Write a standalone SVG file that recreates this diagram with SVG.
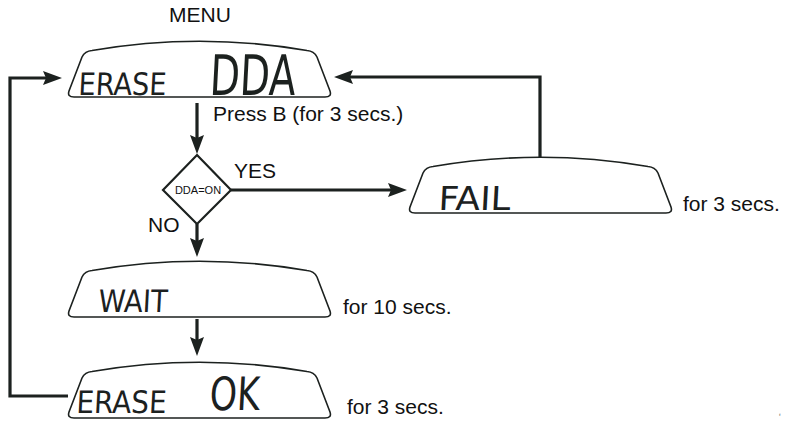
<svg xmlns="http://www.w3.org/2000/svg" width="785" height="421" viewBox="0 0 785 421">
  <style>
    .disp { fill: #ffffff; stroke: #1c211f; stroke-width: 1.6; }
    .lcd { font-family: "Liberation Sans Narrow", "DejaVu Sans Condensed", "Liberation Sans", sans-serif; font-stretch: condensed; fill: #1c211f; }
    .lbl { font-family: "Liberation Sans", Arial, Helvetica, sans-serif; font-size: 21px; fill: #111111; }
    .conn { fill: none; stroke: #1c211f; stroke-width: 3.2; stroke-linejoin: miter; }
    .dia { fill: #ffffff; stroke: #1c211f; stroke-width: 2.2; }
  </style>
  <defs>
    <path id="lcdShape" d="M 7,56 L 258,56 Q 265,56 263,50 L 250,16 Q 247,10 240,9.5 Q 132.5,-9 25,9.5 Q 18,10 15,16 L 2,50 Q 0,56 7,56 Z"/>
    <marker id="arr" markerUnits="userSpaceOnUse" markerWidth="20" markerHeight="16" viewBox="0 0 20 16" refX="11" refY="7" orient="auto">
      <path d="M 0,0 L 19,7 L 0,14 L 3,7 Z" fill="#1c211f"/>
    </marker>
  </defs>

  <rect width="785" height="421" fill="#ffffff"/>

  <text class="lbl" x="200" y="22" text-anchor="middle">MENU</text>

  <g id="connectors">
    <path class="conn" d="M 68,396 H 10 V 78 H 54" marker-end="url(#arr)"/>
    <path class="conn" d="M 197,103 V 146" marker-end="url(#arr)"/>
    <path class="conn" d="M 231,190 H 399" marker-end="url(#arr)"/>
    <path class="conn" d="M 540,157 V 77 H 342" marker-end="url(#arr)"/>
    <path class="conn" d="M 197,224 V 249" marker-end="url(#arr)"/>
    <path class="conn" d="M 197,319 V 348" marker-end="url(#arr)"/>
  </g>

  <g id="node-erase-dda">
    <use href="#lcdShape" class="disp" transform="translate(67,41)"/>
    <text class="lcd" font-size="31" textLength="88" lengthAdjust="spacingAndGlyphs" transform="translate(78,95) skewX(-3)">ERASE</text>
    <text class="lcd" font-size="56" textLength="86" lengthAdjust="spacingAndGlyphs" transform="translate(209,95) skewX(-3)">DDA</text>
  </g>

  <text class="lbl" x="213" y="121">Press B (for 3 secs.)</text>

  <g id="node-decision">
    <polygon class="dia" points="197,155 231,190 197,224 163,190"/>
    <text x="198" y="194" text-anchor="middle" font-family="Liberation Sans, Arial, sans-serif" font-size="11" fill="#111111">DDA=ON</text>
  </g>
  <text class="lbl" x="234" y="178">YES</text>
  <text class="lbl" x="148" y="232">NO</text>

  <g id="node-fail">
    <use href="#lcdShape" class="disp" transform="translate(408,157)"/>
    <text class="lcd" font-size="33" textLength="72" lengthAdjust="spacingAndGlyphs" transform="translate(438,210) skewX(-3)">FAIL</text>
  </g>
  <text class="lbl" x="683" y="211">for 3 secs.</text>

  <g id="node-wait">
    <use href="#lcdShape" class="disp" transform="translate(67,261)"/>
    <text class="lcd" font-size="31" textLength="69" lengthAdjust="spacingAndGlyphs" transform="translate(98,312) skewX(-3)">WAIT</text>
  </g>
  <text class="lbl" x="343" y="314">for 10 secs.</text>

  <g id="node-erase-ok">
    <use href="#lcdShape" class="disp" transform="translate(67,362)"/>
    <text class="lcd" font-size="31" textLength="90" lengthAdjust="spacingAndGlyphs" transform="translate(76,413) skewX(-3)">ERASE</text>
    <text class="lcd" font-size="46" textLength="50" lengthAdjust="spacingAndGlyphs" transform="translate(209,410) skewX(-3)">OK</text>
  </g>
  <text class="lbl" x="347" y="414">for 3 secs.</text>

  <text x="779" y="416" font-family="Liberation Serif, serif" font-size="5" fill="#555555">f</text>
</svg>
